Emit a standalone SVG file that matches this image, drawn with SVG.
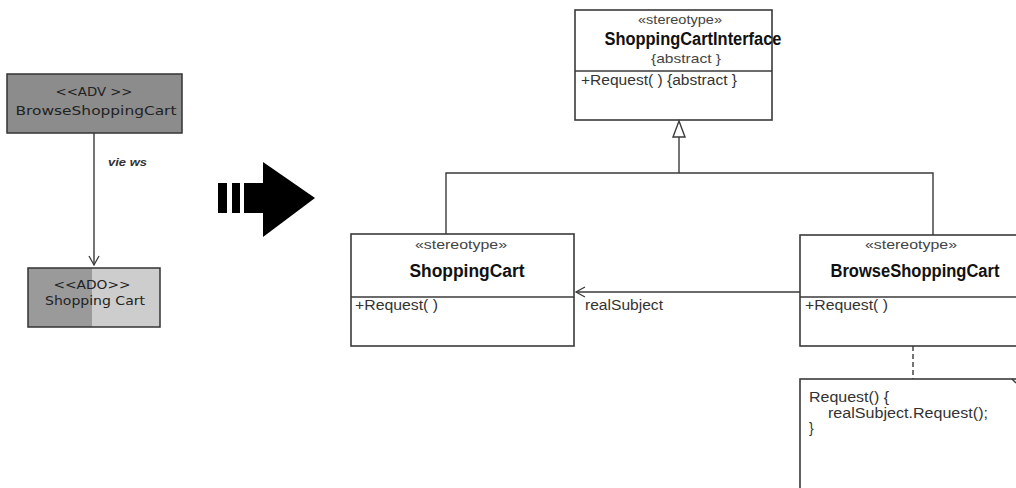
<svg xmlns="http://www.w3.org/2000/svg" width="1016" height="488" viewBox="0 0 1016 488">
  <style>
    .box { fill: #ffffff; stroke: #3a3a3a; stroke-width: 1.6; }
    .line { fill: none; stroke: #3a3a3a; stroke-width: 1.4; }
    .stereo { font-family: "Liberation Sans", Arial, sans-serif; font-size: 13px; fill: #444; text-anchor: middle; }
    .name { font-family: "Liberation Sans", Arial, sans-serif; font-size: 18px; font-weight: bold; fill: #111; text-anchor: middle; }
    .op { font-family: "Liberation Sans", Arial, sans-serif; font-size: 14px; fill: #333; }
    .dv { font-family: "DejaVu Sans", sans-serif; font-size: 13px; fill: #222; text-anchor: middle; }
  </style>
  <defs>
    <marker id="open" markerWidth="12" markerHeight="12" refX="10" refY="6" orient="auto" markerUnits="userSpaceOnUse">
      <path d="M1,1 L10,6 L1,11" fill="none" stroke="#3a3a3a" stroke-width="1.3"/>
    </marker>
  </defs>
  <rect width="1016" height="488" fill="#ffffff"/>

  <!-- left: view / data object pair -->
  <g id="adv-browse">
    <rect x="7" y="74" width="175" height="59" fill="#8c8c8c" stroke="#333" stroke-width="1.5"/>
    <text class="dv" x="94" y="96" textLength="77" lengthAdjust="spacingAndGlyphs">&lt;&lt;ADV &gt;&gt;</text>
    <text class="dv" x="96" y="115" textLength="161" lengthAdjust="spacingAndGlyphs">BrowseShoppingCart</text>
  </g>
  <g id="ado-cart">
    <rect x="28" y="268" width="64" height="59" fill="#9a9a9a"/>
    <rect x="92" y="268" width="68" height="59" fill="#cdcdcd"/>
    <rect x="28" y="268" width="132" height="59" fill="none" stroke="#333" stroke-width="1.5"/>
    <text class="dv" x="92" y="289" textLength="77" lengthAdjust="spacingAndGlyphs">&lt;&lt;ADO&gt;&gt;</text>
    <text class="dv" x="95" y="305" textLength="100" lengthAdjust="spacingAndGlyphs">Shopping Cart</text>
  </g>

  <!-- transformation arrow -->
  <g id="big-arrow" fill="#000">
    <rect x="218" y="183" width="9" height="30"/>
    <rect x="232" y="183" width="8" height="30"/>
    <rect x="244" y="183" width="20" height="30"/>
    <polygon points="263,162 315,198 263,237"/>
  </g>

  <!-- class boxes -->
  <g id="cls-interface">
    <rect class="box" x="575" y="10" width="197" height="110"/>
    <line class="line" x1="575" y1="71" x2="772" y2="71"/>
    <text class="stereo" x="680" y="24" textLength="84" lengthAdjust="spacingAndGlyphs">«stereotype»</text>
    <text class="name" x="693" y="45" textLength="177" lengthAdjust="spacingAndGlyphs">ShoppingCartInterface</text>
    <text class="stereo" x="686" y="63" textLength="70" lengthAdjust="spacingAndGlyphs">{abstract }</text>
    <text class="op" x="581" y="85" textLength="156" lengthAdjust="spacingAndGlyphs">+Request( ) {abstract }</text>
  </g>
  <g id="cls-cart">
    <rect class="box" x="351" y="234" width="223" height="112"/>
    <line class="line" x1="351" y1="297" x2="574" y2="297"/>
    <text class="stereo" x="461" y="249" textLength="92" lengthAdjust="spacingAndGlyphs">«stereotype»</text>
    <text class="name" x="467" y="277" textLength="115" lengthAdjust="spacingAndGlyphs">ShoppingCart</text>
    <text class="op" x="355" y="310" textLength="83" lengthAdjust="spacingAndGlyphs">+Request( )</text>
  </g>
  <g id="cls-browse">
    <rect class="box" x="800" y="235" width="230" height="111"/>
    <line class="line" x1="800" y1="297" x2="1016" y2="297"/>
    <text class="stereo" x="911" y="249" textLength="92" lengthAdjust="spacingAndGlyphs">«stereotype»</text>
    <text class="name" x="915" y="277" textLength="169" lengthAdjust="spacingAndGlyphs">BrowseShoppingCart</text>
    <text class="op" x="805" y="310" textLength="83" lengthAdjust="spacingAndGlyphs">+Request( )</text>
  </g>
  <g id="note">
    <rect class="box" x="800" y="379" width="230" height="120"/>
    <path class="line" d="M1012,379 L1016,383"/>
    <text class="op" x="809" y="402" textLength="80" lengthAdjust="spacingAndGlyphs">Request() {</text>
    <text class="op" x="828" y="418" textLength="160" lengthAdjust="spacingAndGlyphs">realSubject.Request();</text>
    <text class="op" x="809" y="433">}</text>
  </g>

  <!-- connectors -->
  <g id="connectors">
    <line class="line" x1="94" y1="133" x2="94" y2="265" marker-end="url(#open)"/>
    <text x="108" y="166" font-family="Liberation Sans, Arial, sans-serif" font-size="11" font-style="italic" font-weight="bold" fill="#333" textLength="39" lengthAdjust="spacingAndGlyphs">vie ws</text>

    <polyline class="line" points="446,234 446,173 933,173 933,235"/>
    <line class="line" x1="679" y1="173" x2="679" y2="137"/>
    <polygon points="679,121 673,137 685,137" fill="#fff" stroke="#3a3a3a" stroke-width="1.4"/>

    <line class="line" x1="800" y1="292" x2="576" y2="292" marker-end="url(#open)"/>
    <text class="op" x="585" y="310" textLength="78" lengthAdjust="spacingAndGlyphs">realSubject</text>

    <line class="line" x1="913" y1="346" x2="913" y2="379" stroke-dasharray="5,3"/>
  </g>
</svg>
